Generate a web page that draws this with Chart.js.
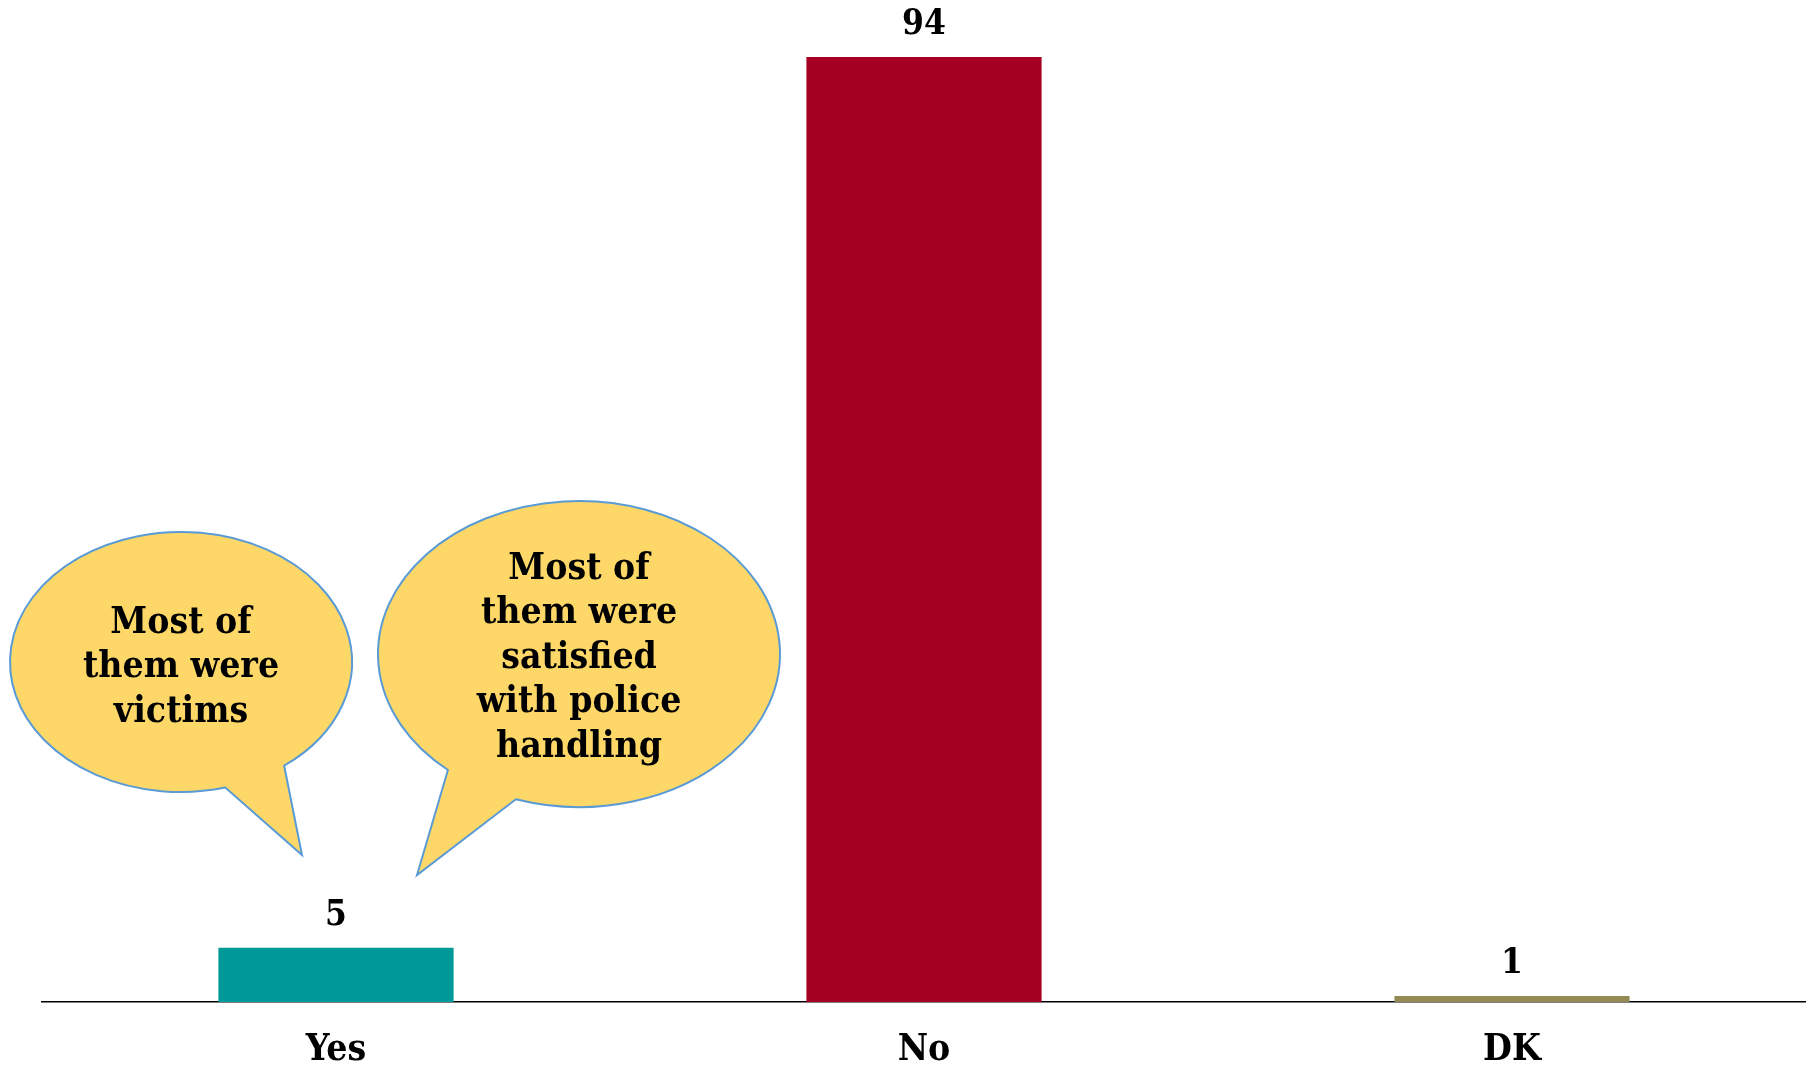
<!DOCTYPE html>
<html>
<head>
<meta charset="utf-8">
<script src="https://cdn.jsdelivr.net/npm/chart.js@4/dist/chart.umd.min.js"></script>
<style>
  html, body { margin: 0; padding: 0; background: #fff; }
  canvas { display: block; }
</style>
</head>
<body>
<canvas id="myChart" width="1806" height="1067"></canvas>
<script>
// answers and their shares (%)
let categories = ["Yes", "No", "DK"];
let values = [5.4, 94.0, 0.6];
let valueLabels = ["5", "94", "1"];
let barColors = ["#009999", "#A50021", "#948A54"];

let serif = "'DejaVu Serif Condensed', 'DejaVu Serif', serif";

// speech bubbles (annotation, pixel space)
let bubbles = [
    { cx: 181, cy: 662, rx: 171, ry: 130, a0: 75, a1: 52.9, tip: [302, 855],
      lines: ["Most of", "them were", "victims"], textY: 623 },
    { cx: 579, cy: 654, rx: 201, ry: 153, a0: 130.7, a1: 108.3, tip: [417, 875],
      lines: ["Most of", "them were", "satisfied", "with police", "handling"], textY: 569 }
];

let valueLabelPlugin = {
    id: 'valueLabels',
    afterDatasetsDraw(chart) {
        let ctx = chart.ctx;
        let meta = chart.getDatasetMeta(0);
        ctx.save();
        ctx.font = "bold 35px " + serif;
        ctx.fillStyle = "#000";
        ctx.textAlign = "center";
        ctx.textBaseline = "middle";
        meta.data.forEach(function (bar, i) {
            ctx.fillText(valueLabels[i], bar.x, bar.y - 32);
        });
        ctx.restore();
    }
};

let bubblePlugin = {
    id: 'bubbles',
    afterDraw(chart) {
        let ctx = chart.ctx;
        let rad = Math.PI / 180;
        bubbles.forEach(function (b) {
            ctx.save();
            ctx.beginPath();
            ctx.ellipse(b.cx, b.cy, b.rx, b.ry, 0, b.a0 * rad, b.a1 * rad, false);
            ctx.lineTo(b.tip[0], b.tip[1]);
            ctx.closePath();
            ctx.fillStyle = "#FDD868";
            ctx.fill();
            ctx.lineWidth = 2;
            ctx.strokeStyle = "#5B9BD5";
            ctx.stroke();

            ctx.font = "bold 37px " + serif;
            ctx.fillStyle = "#000";
            ctx.textAlign = "center";
            ctx.textBaseline = "middle";
            b.lines.forEach(function (line, i) {
                ctx.fillText(line, b.cx, b.textY + i * 44.6);
            });
            ctx.restore();
        });
    }
};

let canvas = document.getElementById("myChart");
let ctx = canvas.getContext("2d");

let myChart = new Chart(ctx, {
    type: 'bar',
    data: {
        labels: categories,
        datasets: [{
            data: values,
            backgroundColor: barColors,
            borderWidth: 0,
            barPercentage: 0.4,
            categoryPercentage: 1.0
        }]
    },
    options: {
        responsive: false,
        animation: false,
        layout: { padding: { top: 57, left: 42, right: 0, bottom: 0 } },
        plugins: {
            legend: { display: false },
            tooltip: { enabled: false }
        },
        scales: {
            x: {
                grid: { display: false },
                border: { display: true, color: "#000", width: 1.5 },
                ticks: {
                    color: "#000",
                    padding: 18,
                    font: { family: serif, size: 37, weight: 'bold' }
                },
                afterFit(scale) { scale.height = 65; }
            },
            y: {
                display: false,
                min: 0,
                max: 94
            }
        }
    },
    plugins: [valueLabelPlugin, bubblePlugin]
});
</script>
</body>
</html>
